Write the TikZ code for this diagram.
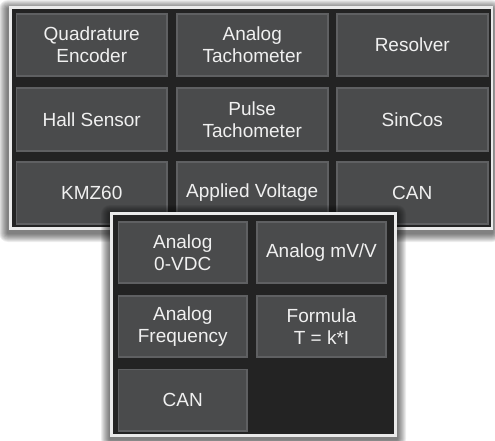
\documentclass[tikz,border=0pt]{standalone}
\usepackage{fontspec}
\setmainfont{Liberation Sans}
\definecolor{panelbg}{HTML}{232323}
\definecolor{btnfill}{HTML}{4A4B4C}
\definecolor{btnline}{HTML}{5F6062}
\definecolor{frameclr}{HTML}{EAEAEA}
\definecolor{txtclr}{HTML}{F0F0F0}
\tikzset{
  frame/.style={fill=frameclr, draw=none},
  inner/.style={fill=panelbg, draw=none},
  btn/.style={draw=btnline, fill=btnfill, line width=1.6pt, align=center,
    text=txtclr, font=\fontsize{19}{22}\selectfont, inner sep=0pt},
  bigbtn/.style={btn, minimum width=150.9pt, minimum height=62.4pt},
  smallbtn/.style={btn, minimum width=128.9pt, minimum height=61.4pt},
  shade/.style={fill=black, opacity=0.07}
}
\begin{document}
\begin{tikzpicture}[x=1pt,y=-1pt]
\useasboundingbox[fill=white] (0,0) rectangle (495,441);
% shadow of top panel
\foreach \i in {1,...,9}{
  \fill[shade, rounded corners=\i pt] ({9-\i-1},{6-\i+3}) rectangle ({493+\i-1},{230+\i+3});
}
\fill[frame] (9,6) rectangle (493,230);
\fill[inner] (12,9) rectangle (491,227);
% top buttons
\node[bigbtn] (qe)  at (91.75,45)   {Quadrature\\Encoder};
\node[bigbtn] (at)  at (252.25,45)  {Analog\\Tachometer};
\node[bigbtn] (rs)  at (412.25,45)  {Resolver};
\node[bigbtn] (hs)  at (91.75,119.5)  {Hall Sensor};
\node[bigbtn] (pt)  at (252.25,119.5) {Pulse\\Tachometer};
\node[bigbtn] (sc)  at (412.25,119.5) {SinCos};
\node[bigbtn] (kmz) at (91.75,193)  {KMZ60};
\node[bigbtn] (av)  at (252.25,193) {Applied Voltage};
\node[bigbtn] (can) at (412.25,193) {CAN};
% shadow of bottom panel
\foreach \i in {1,...,9}{
  \fill[shade, rounded corners=\i pt] ({110-\i},{212-\i+2}) rectangle ({397+\i},{437+\i+2});
}
\fill[frame] (110,212) rectangle (397,437);
\fill[inner] (113,215) rectangle (394,434);
% bottom buttons
\node[smallbtn] (a0)  at (182.75,252.5) {Analog\\0-VDC};
\node[smallbtn] (amv) at (321.5,252.5)  {Analog mV/V};
\node[smallbtn] (af)  at (182.75,326.5) {Analog\\Frequency};
\node[smallbtn] (fm)  at (321.5,326.5)  {Formula\\T = k*I};
\node[smallbtn] (can2) at (182.75,400)  {CAN};
\end{tikzpicture}
\end{document}
